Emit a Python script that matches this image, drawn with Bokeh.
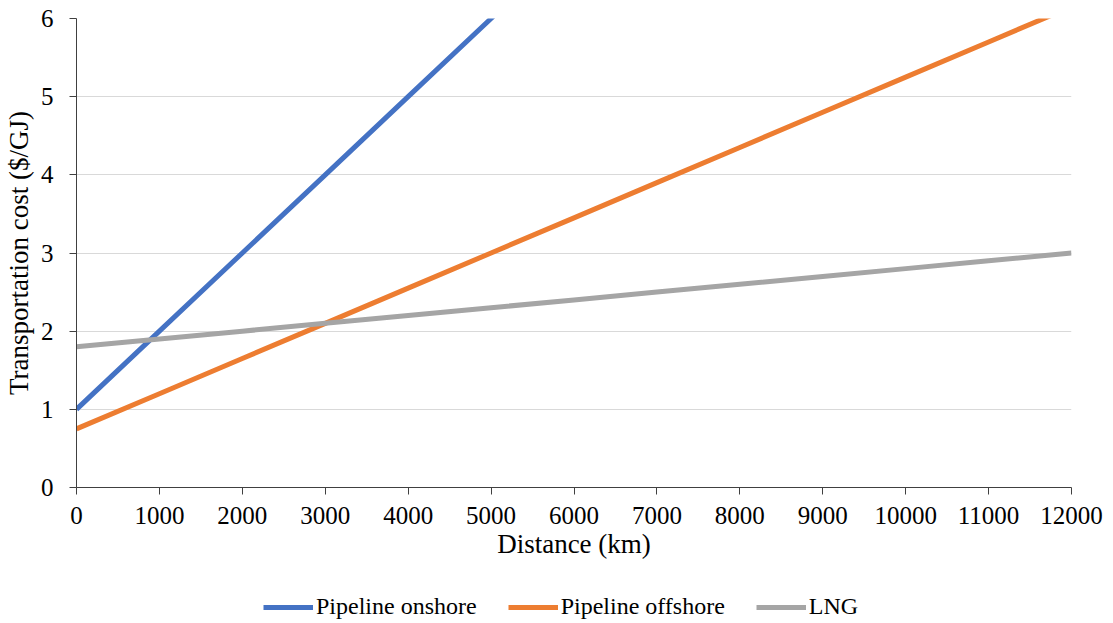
from bokeh.plotting import figure
from bokeh.models import Legend, LegendItem, Range1d, FixedTicker
from bokeh.layouts import column
from bokeh.embed import file_html
from bokeh.resources import INLINE

distance = [0, 1000, 2000, 3000, 4000, 5000, 6000, 7000, 8000, 9000, 10000, 11000, 12000]
onshore = [1.0, 2.0, 3.0, 4.0, 5.0, 6.0, 7.0, 8.0, 9.0, 10.0, 11.0, 12.0, 13.0]
offshore = [0.75, 1.2, 1.65, 2.1, 2.55, 3.0, 3.45, 3.9, 4.35, 4.8, 5.25, 5.7, 6.15]
lng = [1.8, 1.9, 2.0, 2.1, 2.2, 2.3, 2.4, 2.5, 2.6, 2.7, 2.8, 2.9, 3.0]
y_ticks = [0, 1, 2, 3, 4, 5, 6]
series_names = ["Pipeline onshore", "Pipeline offshore", "LNG"]
colors = ["#4472C4", "#ED7D31", "#A5A5A5"]

FONT = "Liberation Serif"

p = figure(width=1113, height=589, output_backend="svg", toolbar_location=None,
           x_range=Range1d(0, 12000), y_range=Range1d(0, 6),
           min_border_left=76, min_border_right=42, min_border_top=18, min_border_bottom=102)
p.outline_line_color = None
p.background_fill_color = "white"

for ys, c in zip([onshore, offshore, lng], colors):
    p.line(distance, ys, line_color=c, line_width=5)

p.xaxis.ticker = FixedTicker(ticks=distance)
p.yaxis.ticker = FixedTicker(ticks=y_ticks)
p.xgrid.grid_line_color = None
p.ygrid.grid_line_color = "#D9D9D9"
p.ygrid.grid_line_width = 1

for ax in (p.xaxis, p.yaxis):
    ax.axis_line_color = "#404040"
    ax.major_tick_line_color = "#404040"
    ax.minor_tick_line_color = None
    ax.major_tick_in = 0
    ax.major_tick_out = 7
    ax.major_label_text_font = FONT
    ax.major_label_text_font_size = "25px"
    ax.major_label_text_color = "black"
    ax.axis_label_text_font = FONT
    ax.axis_label_text_font_size = "27px"
    ax.axis_label_text_color = "black"
    ax.axis_label_text_font_style = "normal"

p.xaxis.axis_label = "Distance (km)"
p.yaxis.axis_label = "Transportation cost ($/GJ)"
p.xaxis.major_label_standoff = 12
p.yaxis.major_label_standoff = 16
p.xaxis.axis_label_standoff = 2
p.yaxis.axis_label_standoff = 4

# legend strip below the chart (its frame is aligned with the main frame)
pl = figure(width=1113, height=34, output_backend="svg", toolbar_location=None,
            x_range=Range1d(0, 1), y_range=Range1d(0, 1),
            min_border_left=0, min_border_right=0, min_border_top=0, min_border_bottom=0)
pl.outline_line_color = None
pl.axis.visible = False
pl.grid.visible = False
items = []
for n, c in zip(series_names, colors):
    r = pl.line(x=[5, 6], y=[5, 6], line_color=c, line_width=5)
    items.append(LegendItem(label=n, renderers=[r]))

legend = Legend(items=items, orientation="horizontal", location=(187, 3))
legend.label_text_font = FONT
legend.label_text_font_size = "24px"
legend.label_text_color = "black"
legend.glyph_width = 50
legend.label_standoff = 3
legend.spacing = 31
legend.border_line_color = None
legend.background_fill_alpha = 0
legend.margin = 0
legend.padding = 2
pl.add_layout(legend)

layout = column(p, pl, spacing=0)
open("out.html", "w").write(file_html(layout, INLINE))
